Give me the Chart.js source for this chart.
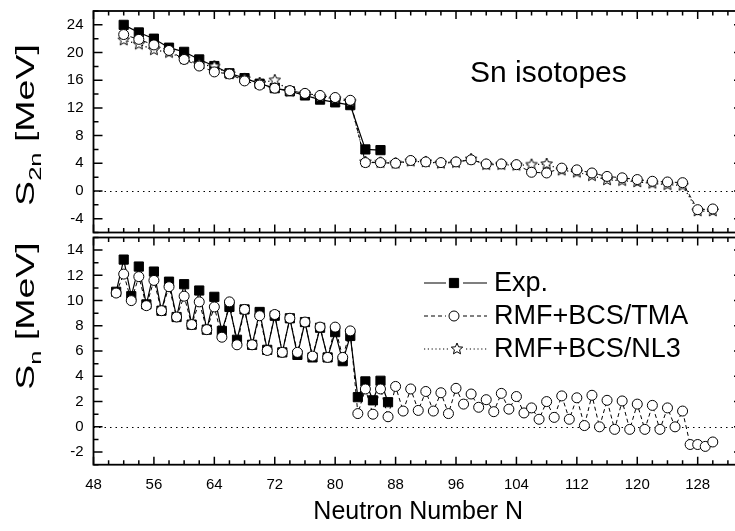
<!DOCTYPE html>
<html lang="en">
<head>
<meta charset="UTF-8">
<title>Sn isotopes - separation energies</title>
<script src="https://cdn.jsdelivr.net/npm/chart.js"></script>
<style>
  body { margin: 0; background: #fff; font-family: "Liberation Sans", Arial, sans-serif; }
  #wrap { position: relative; width: 735px; height: 531px; overflow: hidden; }
  canvas { position: absolute; left: 0; }
  #topChart { top: 0; }
  #bottomChart { top: 230px; }
  .ytitle { position: absolute; font-size: 25px; line-height: 1; white-space: nowrap;
            transform: translate(-50%, -50%) rotate(-90deg) scaleX(1.5); }
  .ytitle sub { font-size: 17px; vertical-align: -7px; }
  #isoLabel { position: absolute; left: 470px; top: 57px; font-size: 30px; line-height: 1; }
</style>
</head>
<body>
<div id="wrap">
  <canvas id="topChart" width="760" height="240"></canvas>
  <canvas id="bottomChart" width="760" height="301"></canvas>
  <div class="ytitle" style="left:28px; top:125px;">S<sub>2n</sub> [MeV]</div>
  <div class="ytitle" style="left:28px; top:316px;">S<sub>n</sub> [MeV]</div>
  <div id="isoLabel">Sn isotopes</div>
</div>

<script>
// ---- data ----
const xTicks = [48, 56, 64, 72, 80, 88, 96, 104, 112, 120, 128];
const s2nTicks = [-4, 0, 4, 8, 12, 16, 20, 24];
const snTicks = [-2, 0, 2, 4, 6, 8, 10, 12, 14];

// two-neutron separation energy (top panel)
const s2nNeutrons = [52, 54, 56, 58, 60, 62, 64, 66, 68, 70, 72, 74, 76, 78, 80, 82, 84, 86, 88, 90,
  92, 94, 96, 98, 100, 102, 104, 106, 108, 110, 112, 114, 116, 118, 120, 122, 124, 126, 128, 130];
const s2nExp = [24.0, 22.9, 22.0, 20.7, 20.1, 19.0, 18.05, 17.0, 16.3, 15.5, 14.85, 14.4, 13.8, 13.2,
  12.8, 12.4, 6.0, 5.9];
const s2nTMA = [22.6, 21.9, 21.1, 20.3, 19.0, 18.05, 17.2, 16.9, 15.9, 15.3, 14.85, 14.5, 14.1, 13.8,
  13.5, 13.1, 4.1, 4.1, 4.0, 4.4, 4.2, 4.1, 4.2, 4.5, 3.9, 3.9, 3.8, 2.7, 2.6, 3.3, 3.05, 2.6, 2.1,
  1.9, 1.65, 1.4, 1.3, 1.2, -2.7, -2.6];
const s2nNL3 = [21.8, 21.2, 20.4, 20.0, 19.1, 18.3, 18.0, 16.9, 16.2, 15.6, 16.0, 14.4, 14.0, 13.6,
  13.3, 12.9, 4.2, 4.1, 4.0, 4.3, 4.2, 4.0, 4.1, 4.6, 3.8, 3.8, 3.7, 3.8, 3.9, 3.0, 2.7, 2.2, 1.6,
  1.5, 1.3, 1.1, 0.9, 0.8, -2.9, -2.9];

// one-neutron separation energy (bottom panel)
const snNeutrons = [51, 52, 53, 54, 55, 56, 57, 58, 59, 60, 61, 62, 63, 64, 65, 66, 67, 68, 69, 70,
  71, 72, 73, 74, 75, 76, 77, 78, 79, 80, 81, 82, 83, 84, 85, 86, 87, 88, 89, 90,
  91, 92, 93, 94, 95, 96, 97, 98, 99, 100, 101, 102, 103, 104, 105, 106, 107, 108, 109, 110,
  111, 112, 113, 114, 115, 116, 117, 118, 119, 120, 121, 122, 123, 124, 125, 126, 127, 128, 129, 130];
const snExp = [10.7, 13.25, 10.35, 12.7, 9.7, 12.3, 9.2, 11.5, 8.7, 11.3, 8.1, 10.8, 7.7, 10.3, 7.6,
  9.5, 6.9, 9.3, 6.5, 9.1, 6.1, 8.8, 5.9, 8.6, 5.7, 8.3, 5.5, 7.85, 5.5, 7.5, 5.2, 7.2,
  2.35, 3.6, 2.1, 3.65, 1.95];
const snTMA = [10.6, 12.1, 10.0, 11.9, 9.6, 11.6, 9.2, 11.1, 8.7, 10.35, 8.1, 9.9, 7.7, 9.5, 7.1,
  9.9, 6.5, 9.3, 6.5, 8.8, 6.05, 8.9, 5.9, 8.6, 5.9, 8.3, 5.6, 7.9, 5.5, 7.9, 5.5, 7.6,
  1.05, 3.0, 1.0, 3.0, 0.8, 3.2, 1.25, 3.0, 1.3, 2.8, 1.25, 2.7, 1.05, 3.05, 1.8, 2.6, 1.55, 2.15,
  1.2, 2.65, 1.4, 2.4, 1.1, 1.5, 0.6, 2.0, 0.75, 2.45, 0.6, 2.3, 0.1, 2.5, 0.0, 2.1, -0.2, 2.05,
  -0.2, 1.8, -0.2, 1.7, -0.2, 1.5, 0.0, 1.25, -1.4, -1.4, -1.55, -1.2];

// ---- styling ----
const FONT = '"Liberation Sans", Arial, sans-serif';

function makeStar(r, lw) {
  const c = document.createElement('canvas');
  const s = Math.ceil(2 * r + 2 * lw + 2);
  c.width = s; c.height = s;
  const g = c.getContext('2d');
  g.translate(s / 2, s / 2);
  g.beginPath();
  for (let i = 0; i < 10; i++) {
    const rad = i % 2 === 0 ? r : r * 0.45;
    const a = -Math.PI / 2 + i * Math.PI / 5;
    g.lineTo(rad * Math.cos(a), rad * Math.sin(a));
  }
  g.closePath();
  g.fillStyle = '#fff'; g.fill();
  g.lineWidth = lw; g.strokeStyle = '#000'; g.stroke();
  return c;
}
const starImg = makeStar(6, 1);

const styles = {
  exp: { borderDash: [], borderWidth: 1.2, pointStyle: 'rect', pointRadius: 6.5, pointBackgroundColor: '#000' },
  tma: { borderDash: [4, 3], borderWidth: 1, pointStyle: 'circle', pointRadius: 5, pointBackgroundColor: '#fff' },
  nl3: { borderDash: [1.2, 2.6], borderWidth: 1.2, pointStyle: starImg, pointRadius: 6, pointBackgroundColor: '#fff' }
};

function pts(ns, vals) { return vals.map((v, i) => ({ x: ns[i], y: v })); }

function dataset(label, data, st) {
  return Object.assign({
    label: label, data: data,
    borderColor: '#000', pointBorderColor: '#000', pointBorderWidth: 1,
    fill: false, tension: 0
  }, st);
}

// inward ticks on all four sides, frame, dotted zero line
const frameTicks = {
  id: 'frameTicks',
  beforeDatasetsDraw(chart) {
    const { ctx, chartArea: a, scales: { y } } = chart;
    const y0 = Math.round(y.getPixelForValue(0)) + 0.5;
    ctx.save();
    ctx.strokeStyle = '#000'; ctx.lineWidth = 1;
    ctx.setLineDash([1.5, 4]);
    ctx.beginPath(); ctx.moveTo(a.left, y0); ctx.lineTo(a.right, y0); ctx.stroke();
    ctx.restore();
  },
  afterDraw(chart, args, opts) {
    const { ctx, chartArea: a, scales: { x, y } } = chart;
    ctx.save();
    ctx.strokeStyle = '#000';
    ctx.lineWidth = 1.5;
    ctx.beginPath();
    for (let v = x.min; v <= x.max + 1e-9; v += opts.xMinor) {
      const len = opts.xMajor.includes(v) ? 8 : 4.5;
      const px = x.getPixelForValue(v);
      ctx.moveTo(px, a.top); ctx.lineTo(px, a.top + len);
      ctx.moveTo(px, a.bottom); ctx.lineTo(px, a.bottom - len);
    }
    for (let v = y.min; v <= y.max + 1e-9; v += opts.yMinor) {
      const len = opts.yMajor.includes(v) ? 9 : 5;
      const py = y.getPixelForValue(v);
      ctx.moveTo(a.left, py); ctx.lineTo(a.left + len, py);
      ctx.moveTo(a.right, py); ctx.lineTo(a.right - len, py);
    }
    ctx.stroke();
    ctx.lineWidth = 1.8;
    ctx.strokeRect(a.left, a.top, a.right - a.left, a.bottom - a.top);
    ctx.restore();
  }
};

// legend drawn inside the lower panel
const legendRows = [
  { text: 'Exp.', st: styles.exp, y: 53, mx: 454 },
  { text: 'RMF+BCS/TMA', st: styles.tma, y: 86, mx: 454 },
  { text: 'RMF+BCS/NL3', st: styles.nl3, y: 119, mx: 457 }
];
const sampleLegend = {
  id: 'sampleLegend',
  afterDraw(chart) {
    const ctx = chart.ctx;
    ctx.save();
    ctx.strokeStyle = '#000';
    legendRows.forEach(r => {
      ctx.lineWidth = r.st.borderWidth;
      ctx.setLineDash(r.st.borderDash);
      ctx.beginPath();
      ctx.moveTo(424, r.y); ctx.lineTo(r.mx - 8, r.y);
      ctx.moveTo(r.mx + 9, r.y); ctx.lineTo(487, r.y);
      ctx.stroke();
      ctx.setLineDash([]);
      ctx.fillStyle = r.st.pointBackgroundColor;
      ctx.lineWidth = 1;
      Chart.helpers.drawPoint(ctx, { pointStyle: r.st.pointStyle, radius: r.st.pointRadius, borderWidth: 1, rotation: 0 }, r.mx, r.y);
      ctx.fillStyle = '#000';
      ctx.font = '27px ' + FONT;
      ctx.textBaseline = 'middle';
      ctx.textAlign = 'left';
      ctx.fillText(r.text, 494, r.y + 1);
    });
    ctx.restore();
  }
};

function yAxis(min, max, ticks) {
  return {
    type: 'linear', min: min, max: max,
    afterFit: s => { s.width = 93.5; s.paddingTop = 0; s.paddingBottom = 0; },
    afterBuildTicks: s => { s.ticks = ticks.map(v => ({ value: v })); },
    grid: { display: false, drawTicks: false },
    border: { display: false },
    ticks: { color: '#000', padding: 10, font: { size: 15, family: FONT } }
  };
}

const topChart = new Chart(document.getElementById('topChart'), {
  type: 'line',
  data: {
    datasets: [
      dataset('RMF+BCS/TMA', pts(s2nNeutrons, s2nTMA), styles.tma),
      dataset('RMF+BCS/NL3', pts(s2nNeutrons, s2nNL3), styles.nl3),
      dataset('Exp.', pts(s2nNeutrons, s2nExp), styles.exp)
    ]
  },
  options: {
    responsive: false, animation: false, devicePixelRatio: 1,
    layout: { padding: { top: 11, bottom: 3, left: 0, right: 17 } },
    scales: {
      x: { type: 'linear', min: 48, max: 134, display: false },
      y: yAxis(-6, 26, s2nTicks)
    },
    plugins: {
      legend: { display: false }, tooltip: { enabled: false },
      frameTicks: { xMinor: 2, xMajor: xTicks, yMinor: 2, yMajor: s2nTicks }
    }
  },
  plugins: [frameTicks]
});

const bottomChart = new Chart(document.getElementById('bottomChart'), {
  type: 'line',
  data: {
    datasets: [
      dataset('RMF+BCS/TMA', pts(snNeutrons, snTMA), styles.tma),
      dataset('Exp.', pts(snNeutrons, snExp), styles.exp)
    ]
  },
  options: {
    responsive: false, animation: false, devicePixelRatio: 1,
    layout: { padding: { top: 7, bottom: 4, left: 0, right: 17 } },
    scales: {
      x: {
        type: 'linear', min: 48, max: 134,
        afterFit: s => { s.height = 62.3; s.paddingLeft = 0; s.paddingRight = 0; },
        afterBuildTicks: s => { s.ticks = xTicks.map(v => ({ value: v })); },
        grid: { display: false, drawTicks: false },
        border: { display: false },
        ticks: { color: '#000', padding: 11, maxRotation: 0, autoSkip: false, font: { size: 15, family: FONT } },
        title: { display: true, text: 'Neutron Number N', color: '#000', padding: 0, font: { size: 25, family: FONT } }
      },
      y: yAxis(-3, 15, snTicks)
    },
    plugins: {
      legend: { display: false }, tooltip: { enabled: false },
      frameTicks: { xMinor: 2, xMajor: xTicks, yMinor: 1, yMajor: snTicks }
    }
  },
  plugins: [frameTicks, sampleLegend]
});
</script>
</body>
</html>
